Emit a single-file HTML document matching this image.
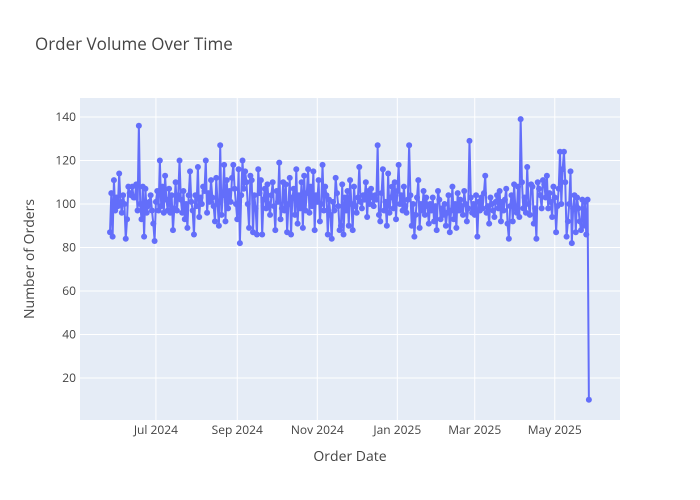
<!DOCTYPE html>
<html><head><meta charset="utf-8"><style>
body{margin:0;background:#fff}
svg{display:block;font-family:"Open Sans","Liberation Sans",sans-serif}
</style></head><body>
<svg id="chart" width="700" height="500">
<rect x="0" y="0" width="700" height="500" fill="#fff"/>
<rect x="80" y="98" width="540" height="322" fill="#e5ecf6"/>
<g id="grid"></g>
<g id="series"></g>
<g id="ticks"></g>
<text x="35" y="50" font-size="17" fill="#444">Order Volume Over Time</text>
<text x="350" y="461" font-size="14" fill="#444" text-anchor="middle">Order Date</text>
<text x="34" y="259" font-size="14" fill="#444" text-anchor="middle" transform="rotate(-90 34 259)">Number of Orders</text>
</svg>
<script>
const startDate = "2024-05-27";
const orders = [
87,105,85,111,97,103,99,114,101,96,104,100,84,93,108,105,104,108,103,103,109,97,136,100,93,108,85,107,96,99,
101,104,97,91,83,101,106,97,120,99,108,96,113,102,97,107,96,104,88,98,110,97,104,120,102,96,106,93,100,89,
104,115,101,97,86,104,99,117,94,103,100,108,106,120,96,105,101,111,103,99,92,112,100,90,127,95,104,118,92,111,
98,106,101,112,118,107,100,93,116,82,104,120,107,115,110,100,89,113,111,87,104,98,86,116,105,111,86,102,107,98,
109,100,95,104,110,99,88,106,101,119,93,98,110,97,109,87,100,112,86,103,107,95,116,91,104,98,110,89,113,97,
105,116,96,108,99,115,88,104,101,111,92,100,118,97,108,104,86,102,95,84,101,97,112,105,99,88,90,109,86,103,
97,106,90,111,100,88,108,99,96,103,117,101,98,104,102,110,94,106,100,107,103,99,104,102,127,95,92,105,116,97,
101,90,114,96,103,108,98,110,93,106,118,100,104,97,108,99,96,102,127,104,90,100,85,95,103,111,89,100,97,106,
95,103,99,91,100,97,103,92,99,88,106,102,93,98,95,100,90,96,104,87,97,108,93,100,89,105,97,102,99,95,
106,100,92,98,129,103,96,100,95,104,85,101,97,103,98,105,113,96,99,91,103,100,97,94,101,104,98,106,92,101,
97,102,107,91,84,99,104,92,109,98,96,108,94,139,110,98,103,96,117,100,95,109,108,91,98,84,110,107,104,98,
111,109,103,113,98,105,101,94,108,103,87,99,107,124,100,116,124,110,85,92,100,115,82,98,104,87,103,98,92,88,102,90,101,86,102,10];
const yTicks = [20,40,60,80,100,120,140];
const xTickDates = ["2024-07-01","2024-09-01","2024-11-01","2025-01-01","2025-03-01","2025-05-01"];
const xTickLabels = ["Jul 2024","Sep 2024","Nov 2024","Jan 2025","Mar 2025","May 2025"];

const NS="http://www.w3.org/2000/svg";
const DAY=86400000;
const t0=Date.parse(startDate+"T00:00:00Z");
const pxPerDay=1.312;
function xDays(d){return 110+d*pxPerDay;}
function xDate(s){return xDays((Date.parse(s+"T00:00:00Z")-t0)/DAY);}
function y(v){return 421.5-v*2.175;}
function mk(tag,attrs,parent){const e=document.createElementNS(NS,tag);for(const k in attrs)e.setAttribute(k,attrs[k]);parent.appendChild(e);return e;}
const grid=document.getElementById('grid'),ticks=document.getElementById('ticks'),series=document.getElementById('series');
yTicks.forEach(v=>{
  const l=mk('line',{x1:80,x2:620,y1:y(v),y2:y(v),stroke:'#fff','stroke-width':1},grid);
  
  
  const t=mk('text',{x:76,y:y(v)+4,'font-size':12,fill:'#444','text-anchor':'end'},ticks);
  t.textContent=v;
  
  
});
xTickDates.forEach((d,i)=>{
  const x=xDate(d);
  const l=mk('line',{x1:x,x2:x,y1:98,y2:420,stroke:'#fff','stroke-width':1},grid);
  
  
  const t=mk('text',{x:x,y:434,'font-size':12,fill:'#444','text-anchor':'middle'},ticks);
  t.textContent=xTickLabels[i];
  
  
});
const pts=orders.map((v,i)=>xDays(i).toFixed(2)+","+y(v).toFixed(2)).join(" ");
const line=mk('polyline',{points:pts,fill:'none',stroke:'#636efa','stroke-width':2,'stroke-linejoin':'round'},series);


orders.forEach((v,i)=>{
  const c=mk('circle',{cx:xDays(i),cy:y(v),r:3,fill:'#636efa'},series);
  
  
});
</script>
</body></html>
